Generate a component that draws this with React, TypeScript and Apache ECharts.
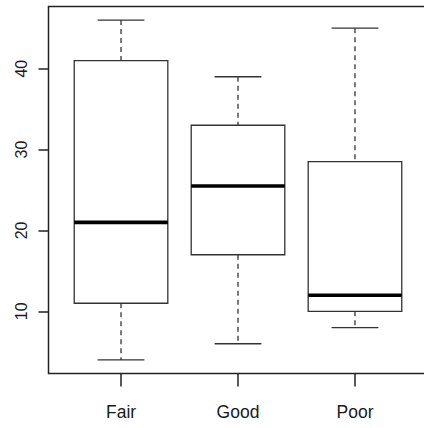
import React, { useEffect, useRef } from "react";
import * as echarts from "echarts";

// Five-number summaries per condition group
const categories = ["Fair", "Good", "Poor"];
const whiskerLow = [4, 6, 8];
const lowerQuartile = [11, 17, 10];
const medians = [21, 25.5, 12];
const upperQuartile = [41, 33, 28.5];
const whiskerHigh = [46, 39, 45];
const yTicks = [10, 20, 30, 40];

const FONT = '"Liberation Sans", Arial, sans-serif';

export default function App() {
  const ref = useRef<HTMLDivElement>(null);

  useEffect(() => {
    if (!ref.current) return;
    const chart = echarts.init(ref.current, null, { renderer: "svg" });

    const boxData = categories.map((_, i) => [
      i + 1,
      whiskerLow[i],
      lowerQuartile[i],
      medians[i],
      upperQuartile[i],
      whiskerHigh[i],
    ]);

    const renderItem = (params: any, api: any) => {
      const x = api.value(0);
      const [cx, yMin] = api.coord([x, api.value(1)]);
      const yQ1 = api.coord([x, api.value(2)])[1];
      const yMed = api.coord([x, api.value(3)])[1];
      const yQ3 = api.coord([x, api.value(4)])[1];
      const yMax = api.coord([x, api.value(5)])[1];
      const halfW = api.size([0.8, 0])[0] / 2;
      const capHalf = halfW / 2;
      const whiskerStyle = { stroke: "#333", lineWidth: 1.3, lineDash: [5, 4] };
      const solid = { stroke: "#333", lineWidth: 1.3 };
      return {
        type: "group",
        children: [
          { type: "line", shape: { x1: cx, y1: yMax, x2: cx, y2: yQ3 }, style: whiskerStyle },
          { type: "line", shape: { x1: cx, y1: yQ1, x2: cx, y2: yMin }, style: whiskerStyle },
          { type: "line", shape: { x1: cx - capHalf, y1: yMax, x2: cx + capHalf, y2: yMax }, style: solid },
          { type: "line", shape: { x1: cx - capHalf, y1: yMin, x2: cx + capHalf, y2: yMin }, style: solid },
          {
            type: "rect",
            shape: { x: cx - halfW, y: yQ3, width: halfW * 2, height: yQ1 - yQ3 },
            style: { fill: "#fff", stroke: "#333", lineWidth: 1.3 },
          },
          { type: "line", shape: { x1: cx - halfW, y1: yMed, x2: cx + halfW, y2: yMed }, style: { stroke: "#000", lineWidth: 3.6 } },
        ],
      };
    };

    chart.setOption({
      animation: false,
      backgroundColor: "#fff",
      grid: {
        left: 48.5,
        top: 6.5,
        width: 379,
        height: 367,
        outerBoundsMode: "none",
        containLabel: false,
        show: true,
        borderColor: "#222",
        borderWidth: 1.5,
        backgroundColor: "transparent",
      },
      xAxis: {
        type: "value",
        min: 0.38,
        max: 3.62,
        splitLine: { show: false },
        axisLine: { show: false },
        axisTick: {
          show: true,
          length: 13,
          customValues: [1, 2, 3],
          lineStyle: { color: "#222", width: 1.5 },
        },
        axisLabel: {
          customValues: [1, 2, 3],
          formatter: (v: number) => categories[Math.round(v) - 1] ?? "",
          margin: 29,
          fontFamily: FONT,
          fontSize: 17.5,
          color: "#1a1a1a",
        },
      },
      yAxis: {
        type: "value",
        min: 2.32,
        max: 47.68,
        splitLine: { show: false },
        axisLine: { show: false },
        axisTick: {
          show: true,
          length: 10,
          customValues: yTicks,
          lineStyle: { color: "#222", width: 1.5 },
        },
        axisLabel: {
          customValues: yTicks,
          rotate: 90,
          margin: 19,
          fontFamily: FONT,
          fontSize: 16,
          color: "#1a1a1a",
        },
      },
      series: [
        {
          type: "custom",
          renderItem,
          data: boxData,
          encode: { x: 0, y: [1, 2, 3, 4, 5] },
          clip: false,
        },
      ],
    });

    return () => chart.dispose();
  }, []);

  return (
    <div
      ref={ref}
      style={{ position: "fixed", left: 0, top: 0, width: 424, height: 428, background: "#fff" }}
    />
  );
}
